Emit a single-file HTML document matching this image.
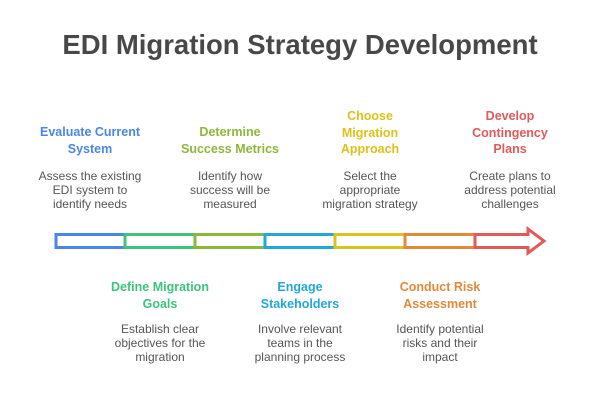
<!DOCTYPE html>
<html><head><meta charset="utf-8"><style>
body{margin:0;width:600px;height:400px;background:#fff;font-family:"Liberation Sans",sans-serif;position:relative;overflow:hidden}
.t{position:absolute;left:0;width:600px;top:29px;text-align:center;font-size:27.5px;font-weight:bold;color:#484848}
.h{position:absolute;width:140px;text-align:center;font-size:12.5px;font-weight:bold;line-height:16.5px}
.b{position:absolute;width:140px;text-align:center;font-size:12px;color:#555;line-height:14px}
</style></head><body>
<div class="t">EDI Migration Strategy Development</div>

<div class="h" style="left:20px;top:124px;color:#4a86e8">Evaluate Current<br>System</div>
<div class="b" style="left:20px;top:169px">Assess the existing<br>EDI system to<br>identify needs</div>

<div class="h" style="left:160px;top:124px;color:#8cb83a">Determine<br>Success Metrics</div>
<div class="b" style="left:160px;top:169px">Identify how<br>success will be<br>measured</div>

<div class="h" style="left:300px;top:108px;color:#dcc21a">Choose<br>Migration<br>Approach</div>
<div class="b" style="left:300px;top:169px">Select the<br>appropriate<br>migration strategy</div>

<div class="h" style="left:440px;top:108px;color:#e05a5a">Develop<br>Contingency<br>Plans</div>
<div class="b" style="left:440px;top:169px">Create plans to<br>address potential<br>challenges</div>

<svg style="position:absolute;left:0;top:0" width="600" height="400">
<g fill="none" stroke-width="3">
<rect x="56" y="234.5" width="69" height="13" stroke="#4a86e8"/>
<rect x="125" y="234.5" width="70" height="13" stroke="#3cc47c"/>
<rect x="195" y="234.5" width="70" height="13" stroke="#8cb83a"/>
<rect x="265" y="234.5" width="70" height="13" stroke="#22a8d8"/>
<rect x="335" y="234.5" width="70" height="13" stroke="#dcc21a"/>
<rect x="405" y="234.5" width="70" height="13" stroke="#e08a3a"/>
<path d="M475 234.5 H528 V229 L544 241 L528 253 V247.5 H475 Z" stroke="#e05a5a" stroke-linejoin="miter"/>
</g></svg>

<div class="h" style="left:90px;top:279px;color:#3cc47c">Define Migration<br>Goals</div>
<div class="b" style="left:90px;top:322px">Establish clear<br>objectives for the<br>migration</div>

<div class="h" style="left:230px;top:279px;color:#22a8d8">Engage<br>Stakeholders</div>
<div class="b" style="left:230px;top:322px">Involve relevant<br>teams in the<br>planning process</div>

<div class="h" style="left:370px;top:279px;color:#e08a3a">Conduct Risk<br>Assessment</div>
<div class="b" style="left:370px;top:322px">Identify potential<br>risks and their<br>impact</div>
</body></html>
